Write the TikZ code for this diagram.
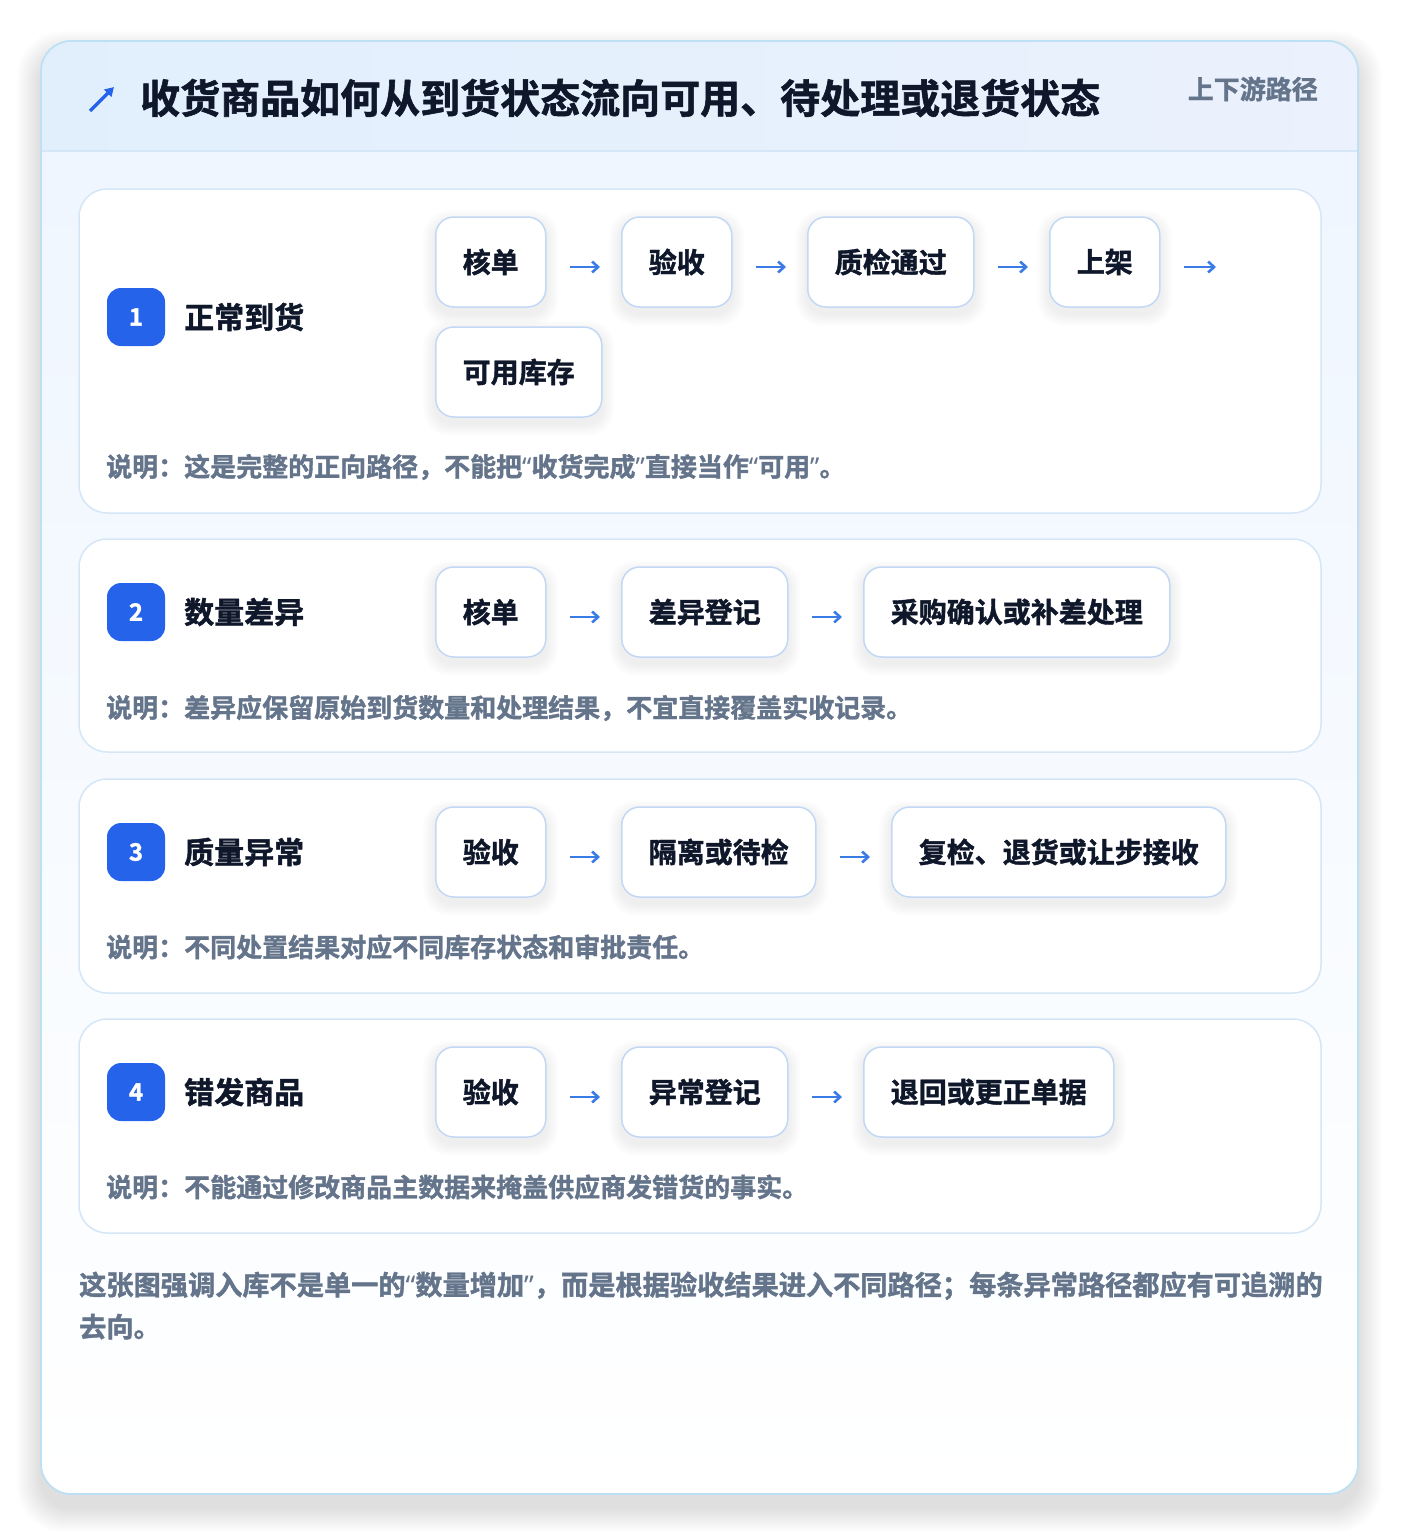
\documentclass[tikz,border=0pt]{standalone}
\usepackage{fontspec}
\setmainfont{Noto Sans CJK SC}[BoldFont={Noto Sans CJK SC Bold},BoldFeatures={FakeBold=1.4}]
\newfontfamily\latq{Noto Sans}[BoldFeatures={FakeBold=1.4}]
\newcommand{\oq}{{\latq “}}
\newcommand{\cq}{{\latq ”}}
\usetikzlibrary{arrows.meta,calc}
\pgfdeclarelayer{back}
\pgfdeclarelayer{shad}
\pgfsetlayers{back,shad,main}
\definecolor{ink}{HTML}{0F172A}
\definecolor{muted}{HTML}{64748B}
\definecolor{cardline}{HTML}{BEE0F4}
\definecolor{secline}{HTML}{D5E6F7}
\definecolor{boxline}{HTML}{C2D8F4}
\definecolor{badge}{HTML}{2563EB}
\definecolor{arrc}{HTML}{3B7BE6}
\definecolor{hdrL}{HTML}{E1EFFD}
\definecolor{hdrR}{HTML}{EBF1FD}
\definecolor{bodytop}{HTML}{EFF6FF}
\tikzset{
  box/.style={draw=boxline, line width=1.5pt, fill=white, rounded corners=18pt,
    minimum height=90pt, inner xsep=27pt, inner ysep=0pt, text=ink,
    font=\bfseries\fontsize{28}{34}\selectfont, anchor=west},
  arr/.style={draw=arrc, line width=2.6pt, -{Straight Barb[length=6pt,width=11pt]}, shorten <=23pt, shorten >=21pt},
  badgebox/.style={fill=badge, rounded corners=14pt, minimum size=58pt, inner sep=0pt, text=white,
    font=\bfseries\fontsize{24}{28}\selectfont},
  steplabel/.style={anchor=west, inner sep=0pt, text=ink, font=\bfseries\fontsize{30}{36}\selectfont},
  notetext/.style={anchor=west, inner sep=0pt, text=muted, font=\bfseries\fontsize{26}{30}\selectfont},
  seccard/.style={draw=secline, line width=1.5pt, fill=white, rounded corners=28pt},
}
\begin{document}
\begin{tikzpicture}[x=1pt,y=-1pt]
\useasboundingbox (0,0) rectangle (1400,1536);
\begin{pgfonlayer}{back}
\fill[white] (0,0) rectangle (1400,1536);
% outer card shadow
\foreach \i in {1,...,16}{
  \fill[black, opacity=0.006, rounded corners=30pt+\i*1pt] (41-1.5*\i,41-1.5*\i+14) rectangle (1358+1.5*\i,1494+1.5*\i+14);
}
% outer card
\fill[white, rounded corners=30pt] (41,41) rectangle (1358,1494);
\begin{scope}
  \clip[rounded corners=30pt] (41,41) rectangle (1358,1494);
  \shade[top color=bodytop, bottom color=white] (41,151) rectangle (1358,1494);
  \shade[left color=hdrL, right color=hdrR] (41,41) rectangle (1358,151);
  \draw[secline, line width=1.5pt] (41,151) -- (1358,151);
\end{scope}
\draw[cardline, line width=1.8pt, rounded corners=30pt] (41,41) rectangle (1358,1494);
% section cards
\draw[seccard] (79,189) rectangle (1321,513);
\draw[seccard] (79,539) rectangle (1321,752);
\draw[seccard] (79,779) rectangle (1321,993);
\draw[seccard] (79,1019) rectangle (1321,1233);
\end{pgfonlayer}
% header
\draw[badge, line width=3.5pt, -{Triangle[length=9pt,width=10pt]}] (90,111) -- (114,87);
\node[anchor=west, inner sep=0pt, text=ink, font=\bfseries\fontsize{40}{46}\selectfont] (title) at (140,98) {收货商品如何从到货状态流向可用、待处理或退货状态};
\node[anchor=east, inner sep=0pt, text=muted, font=\bfseries\fontsize{26}{30}\selectfont] (tag) at (1318,89) {上下游路径};
% ---- row 1
\node[badgebox] (b1) at (136,317) {1};
\node[steplabel] (l1) at (184,317) {正常到货};
\node[box] (n11) at (435,262) {核单};
\node[box] (n12) at (621,262) {验收};
\node[box] (n13) at (807,262) {质检通过};
\node[box] (n14) at (1049,262) {上架};
\node[box] (n15) at (435,372) {可用库存};
\coordinate (e1) at (1216,267);
\draw[arr] ([yshift=-5pt]n11.east) -- ([yshift=-5pt]n12.west);
\draw[arr] ([yshift=-5pt]n12.east) -- ([yshift=-5pt]n13.west);
\draw[arr] ([yshift=-5pt]n13.east) -- ([yshift=-5pt]n14.west);
\draw[arr, shorten >=0pt] ([yshift=-5pt]n14.east) -- (e1);
\node[notetext] (t1) at (106,467) {说明：这是完整的正向路径，不能把\oq 收货完成\cq 直接当作\oq 可用\cq 。};
% ---- row 2
\node[badgebox] (b2) at (136,612) {2};
\node[steplabel] (l2) at (184,612) {数量差异};
\node[box] (n21) at (435,612) {核单};
\node[box] (n22) at (621,612) {差异登记};
\node[box] (n23) at (863,612) {采购确认或补差处理};
\draw[arr] ([yshift=-5pt]n21.east) -- ([yshift=-5pt]n22.west);
\draw[arr] ([yshift=-5pt]n22.east) -- ([yshift=-5pt]n23.west);
\node[notetext] (t2) at (106,708) {说明：差异应保留原始到货数量和处理结果，不宜直接覆盖实收记录。};
% ---- row 3
\node[badgebox] (b3) at (136,852) {3};
\node[steplabel] (l3) at (184,852) {质量异常};
\node[box] (n31) at (435,852) {验收};
\node[box] (n32) at (621,852) {隔离或待检};
\node[box] (n33) at (891,852) {复检、退货或让步接收};
\draw[arr] ([yshift=-5pt]n31.east) -- ([yshift=-5pt]n32.west);
\draw[arr] ([yshift=-5pt]n32.east) -- ([yshift=-5pt]n33.west);
\node[notetext] (t3) at (106,947) {说明：不同处置结果对应不同库存状态和审批责任。};
% ---- row 4
\node[badgebox] (b4) at (136,1092) {4};
\node[steplabel] (l4) at (184,1092) {错发商品};
\node[box] (n41) at (435,1092) {验收};
\node[box] (n42) at (621,1092) {异常登记};
\node[box] (n43) at (863,1092) {退回或更正单据};
\draw[arr] ([yshift=-5pt]n41.east) -- ([yshift=-5pt]n42.west);
\draw[arr] ([yshift=-5pt]n42.east) -- ([yshift=-5pt]n43.west);
\node[notetext] (t4) at (106,1187) {说明：不能通过修改商品主数据来掩盖供应商发错货的事实。};
% node shadows
\begin{pgfonlayer}{shad}
\foreach \n in {n11,n12,n13,n14,n15,n21,n22,n23,n31,n32,n33,n41,n42,n43}{
  \foreach \i in {1,...,8}{
    \fill[black, opacity=0.007, rounded corners=18pt+\i*1pt] ($(\n.south west)+(-1.5*\i,1.5*\i+6)$) rectangle ($(\n.north east)+(1.5*\i,-1.5*\i+6)$);
  }
}
\end{pgfonlayer}
% footer
\node[anchor=base west, inner sep=0pt, align=left, text=muted, font=\bfseries\fontsize{27.2}{42}\selectfont] (foot) at (79,1337) {这张图强调入库不是单一的\oq 数量增加\cq ，而是根据验收结果进入不同路径；每条异常路径都应有可追溯的\\去向。};
\end{tikzpicture}
\end{document}
